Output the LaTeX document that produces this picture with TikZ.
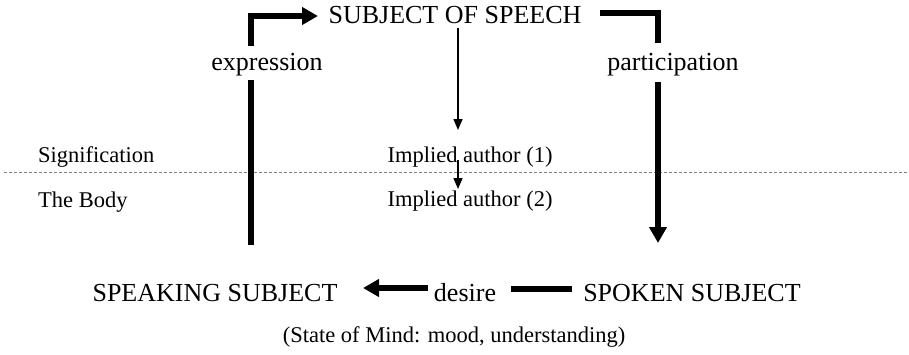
\documentclass[tikz,border=0pt]{standalone}
\usepackage{fontspec}
\setmainfont{Liberation Serif}
\usetikzlibrary{arrows.meta}
\begin{document}
\begin{tikzpicture}[x=1pt, y=-1pt,
    big/.style={font=\fontsize{26}{30}\selectfont, inner sep=0pt, anchor=base},
    small/.style={font=\fontsize{22.5}{26}\selectfont, inner sep=0pt, anchor=base},
    bar/.style={line width=6.5pt},
    bigtip/.style={-{Triangle[length=16pt,width=17pt]}},
    pointer/.style={line width=1.5pt, -{Triangle[length=11pt,width=9pt]}},
    divider/.style={gray, line width=0.8pt, dash pattern=on 3pt off 2pt}]
    \useasboundingbox (0,0) rectangle (909,354);
    % texts
    \node[big] (subj) at (455,23) {SUBJECT OF SPEECH};
    \node[big] (expr) at (267,70) {expression};
    \node[big] (part) at (673,70) {participation};
    \node[small, anchor=base west] (sig) at (38,162) {Signification};
    \node[small, anchor=base west] (body) at (38,207) {The Body};
    \node[small] (auth1) at (470,162) {Implied author (1)};
    \node[small] (auth2) at (470,206) {Implied author (2)};
    \node[big] (speaking) at (215,301) {SPEAKING SUBJECT};
    \node[big] (desire) at (465,301) {desire};
    \node[big] (spoken) at (692,301) {SPOKEN SUBJECT};
    \node[small] (mind) at (454,342) {(State of Mind: mood, understanding)};
    % divider between signification and body
    \coordinate (D0) at (4,172);
    \coordinate (D1) at (909,172);
    \draw[divider] (D0) -- (D1);
    % expression
    \coordinate (L0) at (251,245);
    \coordinate (L1) at (251,80);
    \coordinate (L2) at (251,46);
    \coordinate (L3) at (318,16);
    \draw[bar] (L0) -- (L1);
    \draw[bar, bigtip] (L2) |- (L3);
    % participation
    \coordinate (R0) at (600,13);
    \coordinate (R1) at (658,43);
    \coordinate (R2) at (658,82);
    \coordinate (R3) at (658,243);
    \draw[bar] (R0) -| (R1);
    \draw[bar, bigtip] (R2) -- (R3);
    % desire
    \coordinate (B0) at (572,289);
    \coordinate (B1) at (511,289);
    \coordinate (B2) at (428,288);
    \coordinate (B3) at (363,288);
    \draw[bar] (B0) -- (B1);
    \draw[bar, bigtip] (B2) -- (B3);
    % implied author
    \coordinate (C0) at (458,28);
    \coordinate (C1) at (458,130);
    \coordinate (C2) at (458,160);
    \coordinate (C3) at (458,189);
    \draw[pointer] (C0) -- (C1);
    \draw[pointer] (C2) -- (C3);
\end{tikzpicture}
\end{document}
